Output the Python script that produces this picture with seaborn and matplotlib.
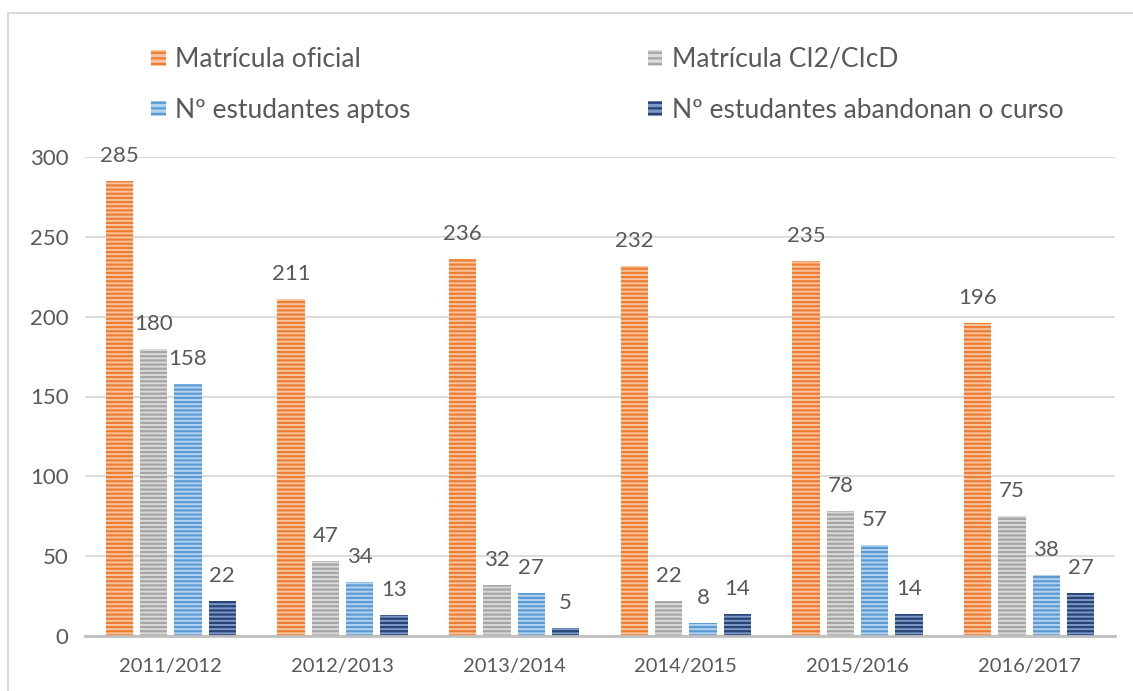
import matplotlib
matplotlib.use("Agg")
import matplotlib.pyplot as plt
import matplotlib.patches as mpatches
import seaborn as sns
import numpy as np
import pandas as pd

# Datos
cursos = ["2011/2012", "2012/2013", "2013/2014", "2014/2015", "2015/2016", "2016/2017"]
series = ["Matrícula oficial", "Matrícula CI2/CIcD", "Nº estudantes aptos",
          "Nº estudantes abandonan o curso"]
matricula_oficial = [285, 211, 236, 232, 235, 196]
matricula_ci2 = [180, 47, 32, 22, 78, 75]
estudantes_aptos = [158, 34, 27, 8, 57, 38]
estudantes_abandonan = [22, 13, 5, 14, 14, 27]

cores = ["#ED7D31", "#A5A5A5", "#5B9BD5", "#264478"]
cores_claras = ["#F8C4A0", "#DADADA", "#B4D2EE", "#7F97C4"]

df = pd.DataFrame({
    "curso": cursos * 4,
    "serie": np.repeat(series, len(cursos)),
    "valor": matricula_oficial + matricula_ci2 + estudantes_aptos + estudantes_abandonan,
})

sns.set_theme(style="white")
plt.rcParams["font.family"] = ["Lato", "DejaVu Sans"]
plt.rcParams["hatch.linewidth"] = 1.6
texto = "#595959"

fig = plt.figure(figsize=(11.33, 6.91), dpi=100)
ax = fig.add_axes([85 / 1133, 55 / 691, (1115 - 85) / 1133, (636 - 157) / 691])

sns.barplot(data=df, x="curso", y="valor", hue="serie", hue_order=series,
            order=cursos, palette=cores, width=0.8, gap=0.2, legend=False, ax=ax)

# Barras com riscas horizontais
for cont, base, clara in zip(ax.containers, cores, cores_claras):
    for barra in cont:
        barra.set_facecolor(clara)
        barra.set_edgecolor(base)
        barra.set_hatch("----")
        barra.set_linewidth(0)
    for barra in cont:
        altura = barra.get_height()
        ax.annotate(f"{altura:.0f}", (barra.get_x() + barra.get_width() / 2, altura),
                    xytext=(0, 18), textcoords="offset points", ha="center", va="center",
                    fontsize=16, color=texto, annotation_clip=False)

ax.set_ylim(0, 300)
ax.set_yticks(range(0, 301, 50))
ax.set_xlabel("")
ax.set_ylabel("")
ax.grid(True, axis="y", color="#D9D9D9", linewidth=1.3)
ax.set_axisbelow(True)
for lado in ["left", "right", "top"]:
    ax.spines[lado].set_visible(False)
ax.spines["bottom"].set_color("#BFBFBF")
ax.spines["bottom"].set_linewidth(2)
ax.tick_params(axis="y", length=0, pad=12, labelsize=16, labelcolor=texto)
ax.tick_params(axis="x", length=0, pad=16, labelsize=14.5, labelcolor=texto)

# Lenda
handles = [mpatches.Patch(facecolor=cores_claras[i], edgecolor=cores[i], hatch="---",
                          linewidth=0, label=series[i]) for i in [0, 2, 1, 3]]
fig.legend(handles=handles, ncol=2, loc="upper left", bbox_to_anchor=(151 / 1133, 1 - 47 / 691),
           frameon=False, fontsize=19, labelcolor=texto, handlelength=0.55, handleheight=0.55,
           handletextpad=0.35, columnspacing=9.0, labelspacing=0.98, borderpad=0,
           borderaxespad=0)

# Borde da figura
fig.add_artist(plt.Line2D([8 / 1133, 8 / 1133], [0, 1 - 13 / 691], color="#D9D9D9",
                          linewidth=1.5, transform=fig.transFigure))
fig.add_artist(plt.Line2D([8 / 1133, 1], [1 - 13 / 691, 1 - 13 / 691], color="#D9D9D9",
                          linewidth=1.5, transform=fig.transFigure))

fig.savefig("out.png", dpi=100, facecolor="white")
